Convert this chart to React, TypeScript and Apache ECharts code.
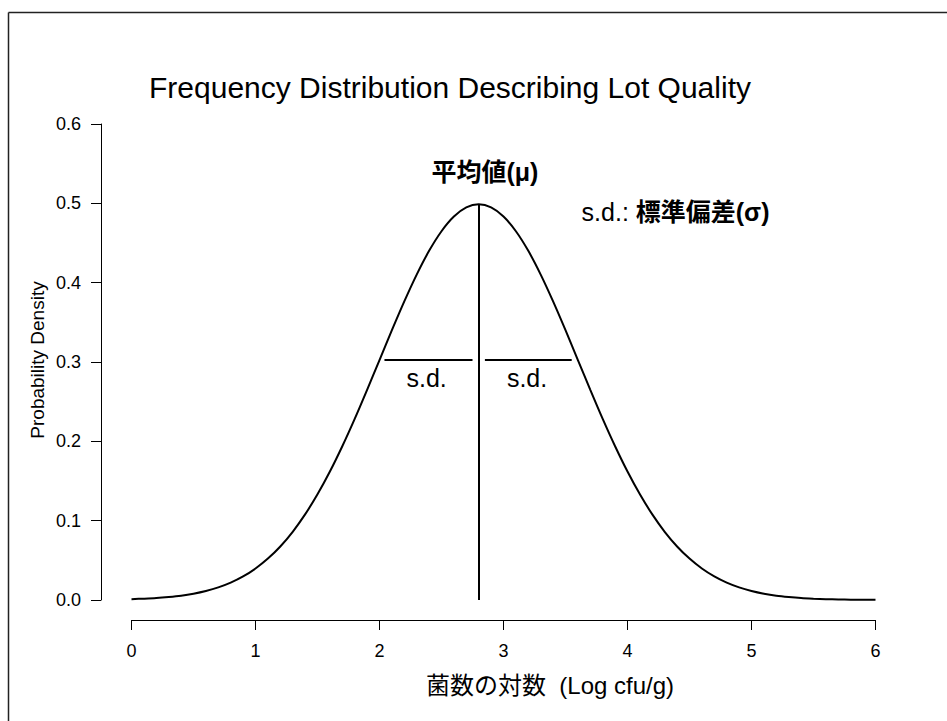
import React, { useEffect, useRef } from "react";
import * as echarts from "echarts";

// x positions (log cfu/g)
const xValues = [
  0.0, 0.1, 0.2, 0.3, 0.4, 0.5, 0.6, 0.7, 0.8, 0.9,
  1.0, 1.1, 1.2, 1.3, 1.4, 1.5, 1.6, 1.7, 1.8, 1.9,
  2.0, 2.1, 2.2, 2.3, 2.4, 2.5, 2.6, 2.7, 2.8, 2.9,
  3.0, 3.1, 3.2, 3.3, 3.4, 3.5, 3.6, 3.7, 3.8, 3.9,
  4.0, 4.1, 4.2, 4.3, 4.4, 4.5, 4.6, 4.7, 4.8, 4.9,
  5.0, 5.1, 5.2, 5.3, 5.4, 5.5, 5.6, 5.7, 5.8, 5.9, 6.0,
];

// probability density
const densityValues = [
  0.0011, 0.0017, 0.0025, 0.0038, 0.0055, 0.008, 0.0114, 0.0159, 0.0219, 0.0297,
  0.0397, 0.0522, 0.0675, 0.086, 0.1079, 0.1332, 0.1619, 0.1938, 0.2283, 0.2649,
  0.3025, 0.3401, 0.3764, 0.4102, 0.4401, 0.4648, 0.4833, 0.4948, 0.4987, 0.4948,
  0.4833, 0.4648, 0.4401, 0.4102, 0.3764, 0.3401, 0.3025, 0.2649, 0.2283, 0.1938,
  0.1619, 0.1332, 0.1079, 0.086, 0.0675, 0.0522, 0.0397, 0.0297, 0.0219, 0.0159,
  0.0114, 0.008, 0.0055, 0.0038, 0.0025, 0.0017, 0.0011, 0.0007, 0.0004, 0.0003, 0.0002,
];

const meanX = 2.8;
const peakY = 0.4987;
const sdLineY = 0.3025;
const sdLeftSegment = [2.04, 2.75];
const sdRightSegment = [2.85, 3.55];

const xTickLabels = ["0", "1", "2", "3", "4", "5", "6"];
const yTickLabels = ["0.0", "0.1", "0.2", "0.3", "0.4", "0.5", "0.6"];

const titleText = "Frequency Distribution Describing Lot Quality";
const xAxisTitle = "菌数の対数  (Log cfu/g)";
const yAxisTitle = "Probability Density";
const meanLabel = "平均値(μ)";
const sdLabel = "s.d.";
const sdLegendPlain = "s.d.: ";
const sdLegendBold = "標準偏差(σ)";

// label anchor points (data coordinates)
const meanLabelPos = [2.85, 0.54];
const sdLabelLeftPos = [2.38, 0.28];
const sdLabelRightPos = [3.19, 0.28];
const sdLegendPos = [3.63, 0.489];

const FONT = "'Liberation Sans', Arial, 'Noto Sans CJK JP', sans-serif";

export default function App() {
  const ref = useRef<HTMLDivElement>(null);

  useEffect(() => {
    if (!ref.current) return;
    const chart = echarts.init(ref.current, undefined, { renderer: "svg" });

    const curve = xValues.map((x, i) => [x, densityValues[i]]);

    const labelBase = {
      color: "#000",
      fontFamily: FONT,
      fontSize: 25,
      textBorderWidth: 0,
      textShadowBlur: 0,
    };

    const option: any = {
      animation: false,
      backgroundColor: "#ffffff",
      textStyle: { fontFamily: FONT, color: "#000" },
      grid: { left: 131.5, right: 71.5, top: 124, bottom: 121, containLabel: false },
      xAxis: {
        type: "value",
        min: 0,
        max: 6,
        interval: 1,
        offset: 20,
        axisLine: { show: true, onZero: false, lineStyle: { color: "#000", width: 1 } },
        axisTick: { show: true, length: 10, inside: false, lineStyle: { color: "#000", width: 1 } },
        axisLabel: {
          margin: 22,
          fontSize: 18,
          color: "#000",
          fontFamily: FONT,
          formatter: (v: number) => xTickLabels[Math.round(v)] ?? "",
        },
        splitLine: { show: false },
      },
      yAxis: {
        type: "value",
        min: 0,
        max: 0.6,
        interval: 0.1,
        offset: 30.5,
        axisLine: { show: true, onZero: false, lineStyle: { color: "#000", width: 1 } },
        axisTick: { show: true, length: 10, inside: false, lineStyle: { color: "#000", width: 1 } },
        axisLabel: {
          margin: 20,
          fontSize: 18,
          color: "#000",
          fontFamily: FONT,
          formatter: (v: number) => yTickLabels[Math.round(v * 10)] ?? "",
        },
        splitLine: { show: false },
      },
      graphic: [
        { type: "line", shape: { x1: 8.5, y1: 12.5, x2: 947, y2: 12.5 }, style: { stroke: "#222", lineWidth: 1.5 } },
        { type: "line", shape: { x1: 8.5, y1: 12.5, x2: 8.5, y2: 721 }, style: { stroke: "#222", lineWidth: 1.5 } },
        {
          type: "text",
          x: 450,
          y: 87,
          style: { text: titleText, font: `30px ${FONT}`, fill: "#000", textAlign: "center", textVerticalAlign: "middle" },
        },
        {
          type: "text",
          x: 550,
          y: 685,
          style: { text: xAxisTitle, font: `24px ${FONT}`, fill: "#000", textAlign: "center", textVerticalAlign: "middle" },
        },
        {
          type: "text",
          x: 37,
          y: 360,
          rotation: Math.PI / 2,
          style: { text: yAxisTitle, font: `19px ${FONT}`, fill: "#000", textAlign: "center", textVerticalAlign: "middle" },
        },
      ],
      series: [
        {
          type: "line",
          data: curve,
          showSymbol: false,
          smooth: 0.3,
          lineStyle: { color: "#000", width: 2 },
          silent: true,
          markLine: {
            silent: true,
            symbol: ["none", "none"],
            label: { show: false },
            lineStyle: { color: "#000", width: 2, type: "solid" },
            data: [
              [{ coord: [meanX, 0] }, { coord: [meanX, peakY] }],
              [{ coord: [sdLeftSegment[0], sdLineY] }, { coord: [sdLeftSegment[1], sdLineY] }],
              [{ coord: [sdRightSegment[0], sdLineY] }, { coord: [sdRightSegment[1], sdLineY] }],
            ],
          },
        },
        {
          type: "scatter",
          symbolSize: 0,
          silent: true,
          itemStyle: { color: "#000", opacity: 1 },
          data: [
            { value: meanLabelPos, name: "mean", label: { ...labelBase, formatter: meanLabel, fontWeight: "bold", align: "center" } },
            { value: sdLabelLeftPos, name: "sdL", label: { ...labelBase, formatter: sdLabel, align: "center" } },
            { value: sdLabelRightPos, name: "sdR", label: { ...labelBase, formatter: sdLabel, align: "center" } },
            {
              value: sdLegendPos,
              name: "legend",
              label: {
                ...labelBase,
                align: "left",
                formatter: `{a|${sdLegendPlain}}{b|${sdLegendBold}}`,
                rich: {
                  a: { ...labelBase },
                  b: { ...labelBase, fontWeight: "bold" },
                },
              },
            },
          ],
          label: {
            show: true,
            position: "inside",
            ...labelBase,
            verticalAlign: "middle",
          },
        },
      ],
    };

    chart.setOption(option);
    return () => chart.dispose();
  }, []);

  return (
    <div
      ref={ref}
      style={{ position: "fixed", left: 0, top: 0, width: 947, height: 721, background: "#fff" }}
    />
  );
}
